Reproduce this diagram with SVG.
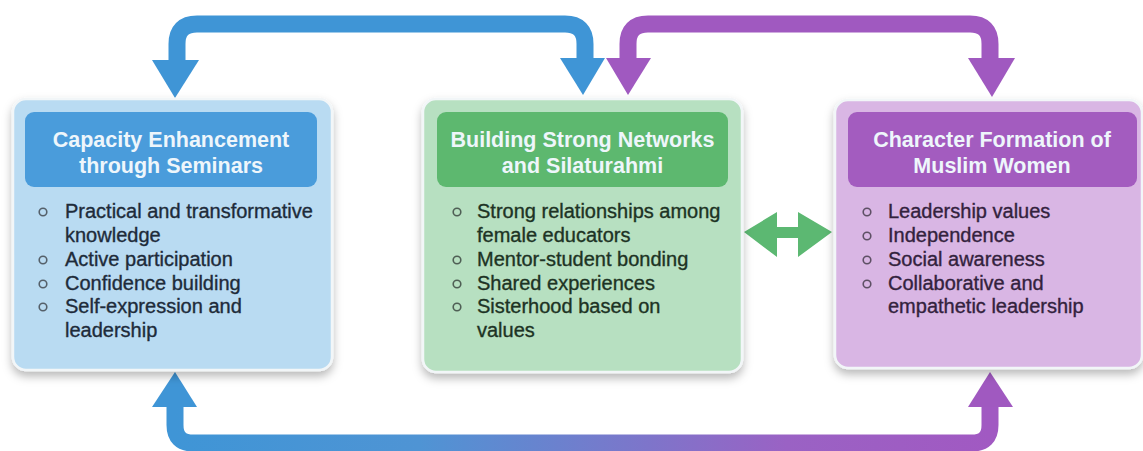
<svg xmlns="http://www.w3.org/2000/svg" width="1143" height="451" viewBox="0 0 1143 451">
  <defs>
    <filter id="shadow" x="-10%" y="-10%" width="120%" height="130%">
      <feDropShadow dx="0" dy="5" stdDeviation="5" flood-color="#000" flood-opacity="0.28"/>
    </filter>
    <linearGradient id="loopGrad" gradientUnits="userSpaceOnUse" x1="175" y1="0" x2="990" y2="0">
      <stop offset="0" stop-color="#3f95d6"/>
      <stop offset="0.3" stop-color="#4f94d4"/>
      <stop offset="0.75" stop-color="#9a62c4"/>
      <stop offset="1" stop-color="#a159c2"/>
    </linearGradient>
    <style>
      .box { stroke: #f2f6f8; stroke-width: 2.5; filter: url(#shadow); }
      .head { font-family: "Liberation Sans", Arial, sans-serif; font-weight: bold; font-size: 21.5px; fill: #eef6fb; text-anchor: middle; }
      .item { font-family: "Liberation Sans", Arial, sans-serif; font-size: 20px; stroke-width: 0.35; }
      .dot { fill: none; stroke-width: 1.6; }
      .blue { fill: #3f95d6; }
      .purple { fill: #a059c0; }
      .green { fill: #5cb872; }
      .line { fill: none; stroke-width: 17; }
    </style>
  </defs>

  <rect width="1143" height="451" fill="#ffffff"/>

  <!-- connectors -->
  <g id="connectors">
    <!-- top blue: networks back to seminars -->
    <path class="line" stroke="#3f95d6" d="M585 62 V44 Q585 24 565 24 H197 Q177 24 177 44 V62"/>
    <polygon class="blue" points="152,60 199,60 175,98"/>
    <polygon class="blue" points="560,58 605,58 583,95"/>
    <!-- top purple: character formation to networks -->
    <path class="line" stroke="#a059c0" d="M628 62 V44 Q628 24 648 24 H970 Q990 24 990 44 V62"/>
    <polygon class="purple" points="606,58 651,58 628,95"/>
    <polygon class="purple" points="968,58 1015,58 992,97"/>
    <!-- bottom loop: gradient blue to purple -->
    <path class="line" stroke="url(#loopGrad)" stroke-width="16" d="M175 404 V425 Q175 443 193 443 H972 Q990 443 990 425 V404"/>
    <polygon class="blue" points="152,407 197,407 175,372"/>
    <polygon class="purple" points="968,407 1013,407 990,372"/>
    <!-- green two-way arrow -->
    <polygon class="green" points="744,232 777,212 777,227 798,227 798,212 832,232 798,257 798,238 777,238 777,257"/>
  </g>

  <!-- node: capacity enhancement -->
  <g id="node-seminars">
    <rect class="box" x="13" y="99" width="319" height="271" rx="13" fill="#b9dbf2"/>
    <rect x="25" y="112" width="292" height="75" rx="9" fill="#4a9cdb"/>
    <text class="head" x="171" y="147">Capacity Enhancement</text>
    <text class="head" x="171" y="173">through Seminars</text>
    <g fill="#1e2b3a" stroke="#1e2b3a" class="item">
      <text x="65" y="218">Practical and transformative</text>
      <text x="65" y="242">knowledge</text>
      <text x="65" y="266">Active participation</text>
      <text x="65" y="290">Confidence building</text>
      <text x="65" y="313">Self-expression and</text>
      <text x="65" y="337">leadership</text>
    </g>
    <g class="dot" stroke="#55606a">
      <circle cx="43" cy="212" r="3.8"/>
      <circle cx="43" cy="260" r="3.8"/>
      <circle cx="43" cy="284" r="3.8"/>
      <circle cx="43" cy="307" r="3.8"/>
    </g>
  </g>

  <!-- node: networks and silaturahmi -->
  <g id="node-networks">
    <rect class="box" x="423" y="99" width="319" height="273" rx="13" fill="#b7e0c1"/>
    <rect x="437" y="112" width="291" height="75" rx="9" fill="#5db86f"/>
    <text class="head" x="582.5" y="147">Building Strong Networks</text>
    <text class="head" x="582.5" y="173">and Silaturahmi</text>
    <g fill="#1d3324" stroke="#1d3324" class="item">
      <text x="477" y="218">Strong relationships among</text>
      <text x="477" y="242">female educators</text>
      <text x="477" y="266">Mentor-student bonding</text>
      <text x="477" y="290">Shared experiences</text>
      <text x="477" y="313">Sisterhood based on</text>
      <text x="477" y="337">values</text>
    </g>
    <g class="dot" stroke="#4f5f55">
      <circle cx="457" cy="212" r="3.8"/>
      <circle cx="457" cy="260" r="3.8"/>
      <circle cx="457" cy="284" r="3.8"/>
      <circle cx="457" cy="307" r="3.8"/>
    </g>
  </g>

  <!-- node: character formation -->
  <g id="node-character">
    <rect class="box" x="835" y="100" width="307" height="268" rx="13" fill="#d9b6e4"/>
    <rect x="848" y="112" width="289" height="75" rx="9" fill="#a35cbf"/>
    <text class="head" x="992" y="147">Character Formation of</text>
    <text class="head" x="992" y="173">Muslim Women</text>
    <g fill="#33223d" stroke="#33223d" class="item">
      <text x="888" y="218">Leadership values</text>
      <text x="888" y="242">Independence</text>
      <text x="888" y="266">Social awareness</text>
      <text x="888" y="290">Collaborative and</text>
      <text x="888" y="313">empathetic leadership</text>
    </g>
    <g class="dot" stroke="#5e5065">
      <circle cx="867" cy="212" r="3.8"/>
      <circle cx="867" cy="236" r="3.8"/>
      <circle cx="867" cy="260" r="3.8"/>
      <circle cx="867" cy="284" r="3.8"/>
    </g>
  </g>
</svg>
